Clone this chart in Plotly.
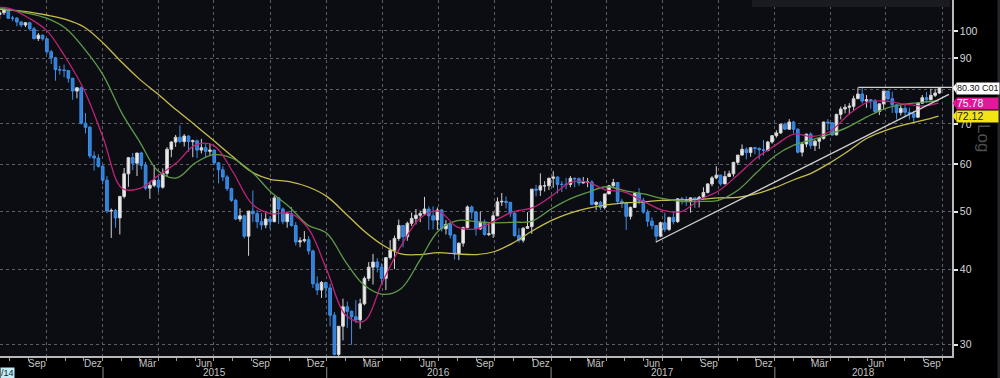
import numpy as np
import pandas as pd
import plotly.graph_objects as go

# ---------------- weekly OHLC (Brent front month, CO1) ----------------
week_open = [
    # 2014 (from week of 14 Jul)
    106.5, 107.2, 108.4,
    105.0, 105.0, 103.5, 102.3,
    103.2, 100.8, 97.1, 98.4, 97.0,
    92.3, 90.2, 86.2, 86.1,
    85.9, 83.4, 79.4, 80.4,
    70.2, 69.1, 61.9, 61.4, 59.5,
    # 2015
    56.4, 50.1, 50.2, 48.8,
    53.0, 57.8, 61.5, 60.2,
    62.6, 59.7, 54.7, 55.3, 56.4,
    54.9, 57.9, 63.5, 65.3,
    66.5, 65.4, 66.8, 65.4,
    65.6, 63.3, 63.9, 63.0, 63.3,
    60.3, 58.7, 57.1, 54.6,
    52.2, 48.6, 49.2, 45.5, 50.1,
    49.6, 48.1, 47.5, 48.6,
    48.1, 52.7, 50.5, 48.1,
    49.6, 47.4, 44.5, 44.7, 44.9,
    43.0, 37.9, 37.0, 38.1,
    # 2016
    37.3, 33.6, 28.9, 32.2,
    34.7, 34.1, 33.4, 33.0, 35.1,
    38.7, 40.4, 41.2, 40.4,
    38.7, 41.9, 43.1, 45.1,
    47.4, 45.4, 47.8, 48.7, 49.3,
    49.6, 50.5, 49.2, 48.4,
    50.3, 46.8, 47.6, 45.7,
    42.5, 44.3, 47.0, 50.9, 49.9,
    46.8, 48.0, 45.8, 45.9,
    49.2, 51.9, 52.0, 51.8, 49.7,
    45.6, 44.8, 46.9, 47.2,
    54.5, 54.3, 55.2, 55.2,
    # 2017
    56.8, 57.1, 55.5, 55.5, 55.5,
    56.8, 56.7, 55.8, 56.0,
    56.0, 51.4, 51.8, 50.8,
    53.5, 55.2, 55.9, 52.0,
    51.7, 49.1, 50.8, 53.6, 52.2,
    49.9, 48.2, 47.4, 45.5,
    47.9, 46.7, 48.9, 48.1, 52.5,
    52.4, 52.1, 52.7, 52.4,
    52.8, 53.8, 55.6, 56.9,
    57.5, 55.6, 57.2, 57.8, 60.4,
    62.1, 63.5, 62.7, 63.9,
    63.7, 63.4, 63.2, 65.3,
    # 2018
    66.9, 67.6, 69.9, 68.6, 70.5,
    68.6, 62.8, 64.8, 67.3,
    64.4, 65.5, 66.2, 70.5,
    70.3, 67.1, 72.6, 74.1, 74.6,
    74.9, 77.1, 78.5, 76.4,
    76.8, 76.5, 73.4, 75.6,
    79.4, 77.1, 75.3, 73.1, 74.3,
    73.2, 72.8, 71.8, 75.8,
    77.4, 76.8, 78.1, 78.8,
]
week_high = [
    108.0, 108.6, 108.5,
    106.0, 105.5, 103.8, 103.4,
    103.6, 101.5, 99.2, 98.6, 97.3,
    93.0, 90.5, 87.5, 87.9,
    86.0, 83.5, 80.6, 80.8,
    73.0, 69.5, 63.0, 62.3, 59.8,
    57.3, 50.6, 50.5, 53.0,
    59.1, 61.6, 62.6, 62.6,
    62.9, 60.5, 56.1, 59.8, 57.8,
    59.0, 64.0, 65.5, 67.1,
    69.6, 67.3, 67.0, 65.9,
    65.9, 66.1, 64.8, 64.9, 63.5,
    60.4, 59.5, 57.5, 54.8,
    52.5, 50.6, 49.4, 50.1, 54.2,
    50.3, 49.7, 49.7, 49.1,
    53.1, 52.8, 50.8, 50.0,
    50.9, 48.0, 45.3, 46.4, 45.5,
    43.2, 39.0, 38.3, 38.2,
    37.9, 34.0, 32.2, 35.8,
    35.4, 34.2, 35.6, 35.8, 39.0,
    41.2, 42.5, 41.8, 41.0,
    42.0, 44.8, 45.6, 48.5,
    47.4, 48.1, 49.8, 50.5, 50.2,
    52.9, 51.0, 51.0, 50.8,
    50.5, 48.4, 48.0, 45.9,
    44.4, 47.2, 51.2, 51.2, 50.1,
    50.0, 48.5, 47.9, 49.9,
    52.8, 53.7, 53.0, 51.9, 49.9,
    46.9, 47.1, 49.9, 54.5,
    55.4, 57.9, 56.2, 57.0,
    58.4, 57.2, 56.2, 56.9, 57.3,
    57.0, 57.0, 57.1, 56.9,
    56.4, 52.0, 52.1, 53.5,
    55.4, 56.7, 56.0, 52.5,
    51.9, 51.0, 53.6, 54.7, 52.7,
    50.4, 48.9, 47.4, 48.1,
    49.8, 49.0, 50.0, 52.6, 52.9,
    53.0, 52.8, 52.8, 53.1,
    54.9, 55.7, 57.3, 59.5,
    57.6, 58.4, 58.5, 60.5, 62.1,
    64.7, 64.0, 64.0, 64.1,
    64.0, 65.8, 65.6, 67.0,
    68.3, 70.0, 70.4, 71.3, 70.8,
    68.8, 65.0, 67.4, 67.8,
    65.8, 66.3, 70.6, 71.3,
    70.3, 72.8, 74.8, 75.5, 75.8,
    78.0, 80.5, 80.5, 78.2,
    77.0, 77.0, 75.7, 79.4,
    79.5, 79.2, 75.5, 75.1, 75.3,
    74.5, 73.6, 76.0, 78.2,
    79.1, 80.1, 80.1, 80.4,
]
week_low = [
    104.6, 106.3, 104.8,
    103.8, 101.8, 101.4, 101.5,
    100.2, 96.8, 96.2, 96.3, 91.5,
    88.1, 82.6, 84.6, 83.7,
    82.0, 76.8, 77.2, 69.8,
    67.5, 61.3, 58.5, 59.2, 55.5,
    49.7, 45.2, 47.0, 45.8,
    52.6, 55.0, 58.6, 57.3,
    58.8, 54.3, 52.5, 54.9, 53.9,
    54.6, 57.3, 61.6, 64.1,
    65.0, 64.2, 62.9, 61.6,
    61.4, 62.5, 61.6, 62.1, 59.8,
    55.7, 56.2, 54.1, 51.9,
    48.4, 48.1, 45.1, 42.2, 48.0,
    46.9, 46.6, 46.9, 46.8,
    48.0, 47.7, 47.6, 47.0,
    47.2, 43.9, 43.6, 44.4, 42.4,
    37.3, 36.3, 35.9, 35.9,
    32.2, 28.8, 27.1, 30.5,
    32.0, 30.0, 32.6, 31.9, 34.9,
    38.3, 37.8, 39.6, 38.0,
    37.0, 41.6, 40.1, 44.7,
    43.6, 44.7, 47.3, 47.6, 48.0,
    49.4, 46.6, 46.7, 46.6,
    46.3, 45.8, 45.1, 41.6,
    41.5, 43.7, 46.9, 48.6, 45.6,
    46.6, 45.6, 45.5, 45.2,
    49.1, 51.1, 50.6, 49.0, 45.4,
    44.4, 44.4, 46.8, 45.9,
    53.0, 53.1, 54.0, 54.3,
    54.8, 53.6, 53.9, 54.5, 54.9,
    54.9, 55.2, 55.7, 54.9,
    51.2, 50.3, 50.3, 50.4,
    53.5, 55.0, 51.5, 50.7,
    46.6, 48.5, 50.8, 51.4, 49.6,
    47.2, 46.7, 44.4, 45.3,
    46.2, 46.4, 47.6, 47.9, 51.4,
    51.1, 49.8, 50.7, 50.8,
    52.5, 53.6, 55.1, 56.6,
    55.2, 55.6, 57.1, 57.2, 59.8,
    62.0, 61.1, 61.7, 62.3,
    61.1, 62.0, 63.0, 64.9,
    66.4, 67.4, 68.4, 68.4, 67.5,
    62.5, 61.8, 64.0, 63.6,
    63.1, 63.6, 65.9, 68.3,
    66.8, 67.0, 71.2, 72.9, 72.6,
    73.8, 77.0, 75.7, 74.5,
    74.2, 72.8, 72.4, 74.0,
    76.6, 73.0, 71.2, 72.3, 71.8,
    71.2, 70.3, 71.6, 75.6,
    75.9, 76.7, 77.6, 78.5,
]
week_close = [
    107.2, 108.4, 105.0,
    105.0, 103.5, 102.3, 103.2,
    100.8, 97.1, 98.4, 97.0, 92.3,
    90.2, 86.2, 86.1, 85.9,
    83.4, 79.4, 80.4, 70.2,
    69.1, 61.9, 61.4, 59.5, 56.4,
    50.1, 50.2, 48.8, 53.0,
    57.8, 61.5, 60.2, 62.6,
    59.7, 54.7, 55.3, 56.4, 54.9,
    57.9, 63.5, 65.3, 66.5,
    65.4, 66.8, 65.4, 65.6,
    63.3, 63.9, 63.0, 63.3, 60.3,
    58.7, 57.1, 54.6, 52.2,
    48.6, 49.2, 45.5, 50.1, 49.6,
    48.1, 47.5, 48.6, 48.1,
    52.7, 50.5, 48.1, 49.6,
    47.4, 44.5, 44.7, 44.9, 43.0,
    37.9, 37.0, 38.1, 37.3,
    33.6, 28.9, 32.2, 34.7,
    34.1, 33.4, 33.0, 35.1, 38.7,
    40.4, 41.2, 40.4, 38.7,
    41.9, 43.1, 45.1, 47.4,
    45.4, 47.8, 48.7, 49.3, 49.6,
    50.5, 49.2, 48.4, 50.3,
    46.8, 47.6, 45.7, 42.5,
    44.3, 47.0, 50.9, 49.9, 46.8,
    48.0, 45.8, 45.9, 49.2,
    51.9, 52.0, 51.8, 49.7, 45.6,
    44.8, 46.9, 47.2, 54.5,
    54.3, 55.2, 55.2, 56.8,
    57.1, 55.5, 55.5, 55.5, 56.8,
    56.7, 55.8, 56.0, 56.0,
    51.4, 51.8, 50.8, 53.5,
    55.2, 55.9, 52.0, 51.7,
    49.1, 50.8, 53.6, 52.2, 49.9,
    48.2, 47.4, 45.5, 47.9,
    46.7, 48.9, 48.1, 52.5, 52.4,
    52.1, 52.7, 52.4, 52.8,
    53.8, 55.6, 56.9, 57.5,
    55.6, 57.2, 57.8, 60.4, 62.1,
    63.5, 62.7, 63.9, 63.7,
    63.4, 63.2, 65.3, 66.9,
    67.6, 69.9, 68.6, 70.5, 68.6,
    62.8, 64.8, 67.3, 64.4,
    65.5, 66.2, 70.5, 70.3,
    67.1, 72.6, 74.1, 74.6, 74.9,
    77.1, 78.5, 76.4, 76.8,
    76.5, 73.4, 75.6, 79.4,
    77.1, 75.3, 73.1, 74.3, 73.2,
    72.8, 71.8, 75.8, 77.4,
    76.8, 78.1, 78.8, 80.3,
]

# ---------------- moving averages ----------------
ma_dates = [
    "2014-07-17", "2014-08-01", "2014-09-01", "2014-10-01", "2014-11-01", "2014-12-01",
    "2015-01-01", "2015-02-01", "2015-03-01", "2015-04-01", "2015-05-01", "2015-06-01",
    "2015-07-01", "2015-08-01", "2015-09-01", "2015-10-01", "2015-11-01", "2015-12-01",
    "2016-01-01", "2016-02-01", "2016-03-01", "2016-04-01", "2016-05-01", "2016-06-01",
    "2016-07-01", "2016-08-01", "2016-09-01", "2016-10-01", "2016-11-01", "2016-12-01",
    "2017-01-01", "2017-02-01", "2017-03-01", "2017-04-01", "2017-05-01", "2017-06-01",
    "2017-07-01", "2017-08-01", "2017-09-01", "2017-10-01", "2017-11-01", "2017-12-01",
    "2018-01-01", "2018-02-01", "2018-03-01", "2018-04-01", "2018-05-01", "2018-06-01",
    "2018-07-01", "2018-08-01", "2018-09-01", "2018-09-25",
]
ma_fast = [
    109.5, 109.0, 105.2, 100.2, 90.3, 79.8,
    66.5, 54.7, 54.6, 57.4, 60.3, 64.6,
    64.4, 58.2, 51.5, 49.6, 49.7, 47.0,
    40.0, 33.6, 32.8, 38.2, 43.8, 48.7,
    50.1, 47.1, 46.8, 48.3, 50.0, 50.7,
    53.0, 55.9, 56.0, 54.3, 53.9, 52.0,
    50.3, 50.0, 52.4, 54.1, 57.5, 61.3,
    64.4, 67.3, 66.7, 68.0, 72.5, 76.0,
    76.4, 75.5, 75.0, 75.78,
]
ma_mid = [
    109.2, 108.5, 107.0, 105.0, 101.0, 93.5,
    84.5, 72.9, 65.6, 58.4, 56.9, 60.3,
    62.2, 61.3, 58.2, 54.0, 50.9, 47.5,
    46.0, 41.2, 37.8, 36.4, 37.2, 41.5,
    46.4, 48.3, 48.1, 47.9, 48.0, 48.2,
    50.5, 52.5, 53.8, 55.0, 54.2, 53.5,
    52.6, 52.0, 52.0, 52.2, 54.2, 57.9,
    61.9, 64.5, 65.8, 67.3, 69.2, 72.0,
    74.3, 75.5, 76.1, 76.5,
]
ma_slow = [
    108.6, 108.4, 107.6, 106.3, 104.5, 101.5,
    95.5, 88.6, 83.2, 78.4, 73.8, 69.6,
    65.6, 61.7, 58.2, 56.6, 56.1, 55.0,
    53.0, 49.6, 46.5, 44.0, 42.5, 42.4,
    42.7, 42.5, 42.4, 42.9, 44.4, 46.4,
    48.3, 49.7, 50.6, 51.3, 51.7, 51.9,
    52.2, 52.3, 52.4, 52.7, 52.8, 53.5,
    54.8, 56.5, 57.9, 60.3, 63.1, 66.3,
    68.3, 69.8, 71.0, 72.12,
]

# drawn lines (support trend line and resistance at the May high)
trend_dates = ["2017-06-21", "2018-10-12"]
trend_values = [44.5, 78.4]
resist_dates = ["2018-05-17", "2018-10-17"]
resist_values = [80.5, 80.5]

last_price = 80.30
last_fast = 75.78
last_slow = 72.12

y_ticks = [30, 40, 50, 60, 70, 80, 90, 100]
y_ticktext = ["30", "40", "50", "60", "70", "", "90", "100"]   # 80 is hidden behind the price box
month_names = {3: "Mär", 6: "Jun", 9: "Sep", 12: "Dez"}
years = [2015, 2016, 2017, 2018]

# ---------------- checks ----------------
n = len(week_close)
assert len(week_open) == len(week_high) == len(week_low) == n == 220
for i, (o, h, l, c) in enumerate(zip(week_open, week_high, week_low, week_close)):
    assert h >= max(o, c) and l <= min(o, c), (i, o, h, l, c)
assert len(ma_dates) == len(ma_fast) == len(ma_mid) == len(ma_slow)

week_mid = pd.date_range("2014-07-16 12:00", periods=n, freq="7D")

# ---------------- geometry helpers ----------------
W, H = 1000, 378
ML, MR, MT, MB = 0, 48, 0, 22
PW, PH = W - ML - MR, H - MT - MB
Y_LO, Y_HI = 28.73, 112.6
LLO, LHI = np.log10(Y_LO), np.log10(Y_HI)
X_START, X_END = "2014-07-17", "2018-10-17"


def pxx(px):
    return (px - ML) / PW


def pxy(py):
    return (H - MB - py) / PH


def valy(v):
    return (np.log10(v) - LLO) / (LHI - LLO)


FONT = "Liberation Sans Narrow, Arial Narrow, Liberation Sans, Arial, sans-serif"

fig = go.Figure()
fig.add_trace(go.Scatter(x=ma_dates, y=ma_slow, mode="lines", hoverinfo="skip",
                         line=dict(color="#c6bf4c", width=1.3, shape="spline", smoothing=1.0)))
fig.add_trace(go.Scatter(x=ma_dates, y=ma_mid, mode="lines", hoverinfo="skip",
                         line=dict(color="#5f9c49", width=1.3, shape="spline", smoothing=1.0)))
fig.add_trace(go.Scatter(x=ma_dates, y=ma_fast, mode="lines", hoverinfo="skip",
                         line=dict(color="#c0237a", width=1.3, shape="spline", smoothing=1.0)))
fig.add_trace(go.Candlestick(
    x=week_mid, open=week_open, high=week_high, low=week_low, close=week_close,
    increasing=dict(line=dict(color="#d4d4d4", width=1), fillcolor="#ededed"),
    decreasing=dict(line=dict(color="#3f8fe6", width=1), fillcolor="#2f7fdc"),
    whiskerwidth=0, hoverinfo="skip"))
fig.add_trace(go.Scatter(x=trend_dates, y=trend_values, mode="lines", hoverinfo="skip",
                         line=dict(color="#d0d0d0", width=1.3)))
fig.add_trace(go.Scatter(x=resist_dates, y=resist_values, mode="lines", hoverinfo="skip",
                         line=dict(color="#d0d0d0", width=1.3)))

quarter_starts = pd.date_range("2014-10-01", "2018-10-01", freq="QS")

shapes = []
annotations = []

# legend box stub at the top
shapes.append(dict(type="rect", xref="paper", yref="paper", x0=pxx(752), x1=pxx(950),
                   y0=pxy(7), y1=1.0, fillcolor="#1a1a21", line=dict(width=0), layer="above"))
# right edge strip
shapes.append(dict(type="rect", xref="paper", yref="paper", x0=pxx(997.5), x1=pxx(1001),
                   y0=pxy(378), y1=pxy(0), fillcolor="#262629", line=dict(width=0)))

# year separators and labels
for yr in years:
    shapes.append(dict(type="line", xref="x", yref="paper", x0=f"{yr}-01-01", x1=f"{yr}-01-01",
                       y0=pxy(367), y1=pxy(378), line=dict(color="#8c8c8c", width=1)))
year_centres = {2015: "2015-07-02", 2016: "2016-07-02", 2017: "2017-07-02", 2018: "2018-05-25"}
for yr in years:
    annotations.append(dict(x=year_centres[yr], xref="x", y=pxy(372.5), yref="paper",
                            text=str(yr), showarrow=False, xanchor="center", yanchor="middle",
                            borderpad=0,
                            font=dict(family=FONT, size=10, color="#c4c4c4")))

# month labels
for d in pd.date_range("2014-09-01", "2018-09-01", freq="3MS"):
    annotations.append(dict(x=(d + pd.Timedelta(days=14)).strftime("%Y-%m-%d"), xref="x",
                            y=pxy(363.5), yref="paper", text=month_names[d.month], showarrow=False,
                            xanchor="center", yanchor="middle", borderpad=0,
                            font=dict(family=FONT, size=10, color="#c4c4c4")))

# start-date stub
annotations.append(dict(x=0, xref="paper", y=pxy(373), yref="paper", text="/14", showarrow=False,
                        xanchor="left", yanchor="middle", bgcolor="#c3ecf4", borderpad=0,
                        font=dict(family=FONT, size=9, color="#0e1c33")))

# "Log" label, just below the value boxes
annotations.append(dict(x=pxx(983), xref="paper", y=pxy(138), yref="paper", text="Log",
                        showarrow=False, textangle=90, xanchor="center", yanchor="middle",
                        borderpad=0,
                        font=dict(family="Liberation Sans, Arial, sans-serif", size=17, color="#4f4f52")))

# value boxes on the right
boxes = [
    (last_price, f"{last_price:.2f} C01", "#ffffff", "#111111", 9, None),
    (last_fast, f"{last_fast:.2f}", "#e4169a", "#ffffff", 10.5, 41),
    (last_slow, f"{last_slow:.2f}", "#f2e513", "#222222", 10.5, 41),
]
for v, txt, bg, fc, fs, wd in boxes:
    yc = valy(v)
    ann = dict(x=pxx(956), xref="paper", y=yc, yref="paper", text=txt,
               showarrow=False, xanchor="left", yanchor="middle", bgcolor=bg,
               borderpad=0, height=10.5, align="left",
               font=dict(family=FONT, size=fs, color=fc))
    if wd:
        ann["width"] = wd
    annotations.append(ann)
    hh = 5.3 / PH
    shapes.append(dict(type="path", xref="paper", yref="paper",
                       path=f"M {pxx(952.5)},{yc} L {pxx(956.5)},{yc + hh} L {pxx(956.5)},{yc - hh} Z",
                       fillcolor=bg, line=dict(width=0), layer="above"))

fig.update_layout(
    width=W, height=H,
    margin=dict(l=ML, r=MR, t=MT, b=MB, pad=0),
    paper_bgcolor="#000000", plot_bgcolor="#0c0c13",
    showlegend=False, boxgap=0.12,
    xaxis=dict(type="date", range=[X_START, X_END], rangeslider=dict(visible=False),
               tickmode="array", tickvals=list(quarter_starts), showticklabels=False, ticks="",
               showgrid=True, gridcolor="#5d5d62", griddash="dot", gridwidth=1,
               showline=True, linecolor="#b8b8b8", linewidth=1.5, zeroline=False,
               minor=dict(dtick="M1", tick0="2014-08-01", ticks="outside", ticklen=3,
                          tickcolor="#9a9a9a", tickwidth=1, showgrid=False),
               fixedrange=True),
    yaxis=dict(type="log", side="right", range=[LLO, LHI], tickmode="array",
               tickvals=y_ticks, ticktext=y_ticktext,
               ticks="outside", ticklen=4, tickwidth=2, tickcolor="#e6e6e6",
               tickfont=dict(family=FONT, size=10.5, color="#d6d6d6"),
               showgrid=True, gridcolor="#5d5d62", griddash="dot", gridwidth=1,
               showline=True, linecolor="#b8b8b8", linewidth=1.5, zeroline=False,
               fixedrange=True),
    shapes=shapes, annotations=annotations,
)

fig.write_html(
    "out.html",
    config={"displayModeBar": False},
    post_script="document.body.style.margin='0';document.body.style.background='#000';",
)
